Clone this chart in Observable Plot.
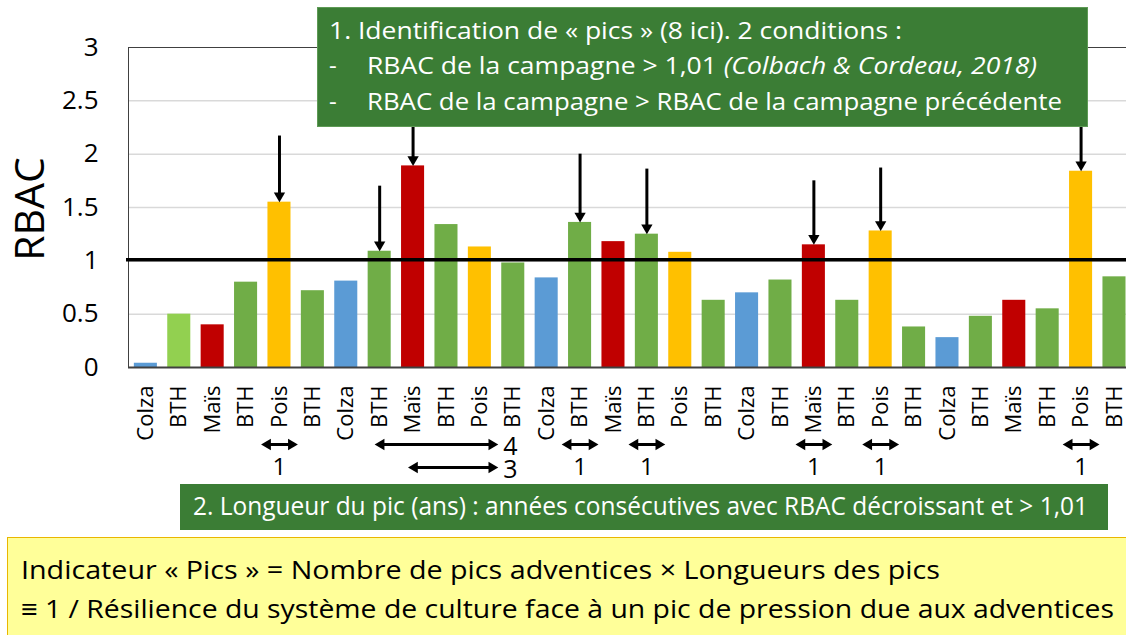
<!DOCTYPE html>
<html><head><meta charset="utf-8">
<script src="https://cdn.jsdelivr.net/npm/d3@7"></script>
<script src="https://cdn.jsdelivr.net/npm/@observablehq/plot@0.6"></script>
<style>
body{margin:0;background:#fff;font-family:"Open Sans",sans-serif;}
#wrap{position:relative;width:1126px;height:635px;overflow:hidden;background:#fff;}
#chart{position:absolute;left:0;top:0;}
.box{position:absolute;box-sizing:border-box;}
.line{position:absolute;white-space:nowrap;transform-origin:0 0;line-height:1;}
#ylabel{position:absolute;left:28px;top:209px;font-size:41px;line-height:1;white-space:nowrap;transform:translate(-50%,-50%) rotate(-90deg);color:#000;}
#box1{left:317px;top:7px;width:771px;height:120px;background:#3B7D35;border:1px solid #5E9A55;color:#fff;}
#box2{left:180px;top:484px;width:928px;height:46px;background:#3B7D35;color:#fff;}
#box3{left:7px;top:537px;width:1125px;height:110px;background:#FFFF99;border-top:1.5px solid #E9B600;border-left:1.5px solid #E9B600;color:#000;}
</style></head><body>
<div id="wrap">
  <div id="chart"></div>
  <div id="ylabel"></div>
  <div class="box" id="box1"></div>
  <div class="box" id="box2"></div>
  <div class="box" id="box3"></div>
</div>
<script>
// ---- data ----
const crops = ["Colza","BTH","Maïs","BTH","Pois","BTH","Colza","BTH","Maïs","BTH","Pois","BTH","Colza","BTH","Maïs","BTH","Pois","BTH","Colza","BTH","Maïs","BTH","Pois","BTH","Colza","BTH","Maïs","BTH","Pois","BTH"];
const rbac = [0.04,0.50,0.40,0.80,1.55,0.72,0.81,1.09,1.89,1.34,1.13,0.98,0.84,1.36,1.18,1.25,1.08,0.63,0.70,0.82,1.15,0.63,1.28,0.38,0.28,0.48,0.63,0.55,1.84,0.85];
const lightGreenBars = [1];
const yTicks = [0,0.5,1,1.5,2,2.5,3];
const yTickLabels = ["0","0.5","1","1.5","2","2.5","3"];
const threshold = 1.01;
const peakIndex = [4,7,8,13,15,20,22,28];
const arrowFrom = [2.17,1.70,2.25,2.00,1.86,1.75,1.87,2.25];
const spanStart = [4,7,8,13,15,20,22,28];
const spanLength = [1,4,3,1,1,1,1,1];
const yLabel = "RBAC";
const cropColor = {"Colza":"#5B9BD5","BTH":"#70AD47","Maïs":"#C00000","Pois":"#FFC000"};
const lightGreen = "#92D050";

const box1Lines = [
  {dash:"", html:"1. Identification de « pics » (8 ici). 2 conditions :"},
  {dash:"-", html:"RBAC de la campagne &gt; 1,01 <i>(Colbach &amp; Cordeau, 2018)</i>"},
  {dash:"-", html:"RBAC de la campagne &gt; RBAC de la campagne précédente"}
];
const box2Text = "2. Longueur du pic (ans) : années consécutives avec RBAC décroissant et &gt; 1,01";
const box3Lines = [
  "Indicateur « Pics » = Nombre de pics adventices × Longueurs des pics",
  "≡ 1 / Résilience du système de culture face à un pic de pression due aux adventices"
];

// ---- tables ----
const bars = crops.map((c, i) => ({i, crop: c, v: rbac[i], fill: lightGreenBars.includes(i) ? lightGreen : cropColor[c]}));
const peaks = peakIndex.map((p, k) => ({i: p, from: arrowFrom[k], v: rbac[p]}));
let multiRow = 0;
const spans = spanStart.map((s, k) => {
  const len = spanLength[k];
  const single = len === 1;
  return {
    start: s, len, single,
    x1: single ? s - 0.55 : s - 0.15,
    x2: s + len - 0.45,
    row: single ? 0 : multiRow++
  };
});
const xDomain = [-0.52, 29.36];
const rowDy = [77, 100];
const bw = 0.345;

const marks = [
  Plot.ruleY(yTicks.filter(t => t > 0 && t < 3), {stroke: "#d9d9d9", strokeWidth: 1.5}),
  Plot.rectY(bars, {x1: d => d.i - bw, x2: d => d.i + bw, y1: 0, y2: "v", fill: "fill"}),
  Plot.ruleY([3], {stroke: "#404040", strokeWidth: 1}),
  Plot.ruleY([0], {stroke: "#404040", strokeWidth: 2}),
  Plot.ruleX([xDomain[0]], {y1: 0, y2: 3, stroke: "#404040", strokeWidth: 1}),
  Plot.ruleY([threshold], {stroke: "#000", strokeWidth: 3.5, insetLeft: -2}),
  // y tick labels
  Plot.text(yTicks, {y: d => d, text: (d, k) => yTickLabels[k], frameAnchor: "left", textAnchor: "end", dx: -30, fontSize: 26}),
  // x tick labels
  Plot.text(bars, {x: "i", y: 0, text: "crop", rotate: -90, textAnchor: "end", dy: 18, fontSize: 22}),
  // peak arrows
  Plot.ruleX(peaks, {x: "i", y1: "from", y2: "v", stroke: "#000", strokeWidth: 3, insetBottom: 8}),
  Plot.dot(peaks, {x: "i", y: "v", symbol: "triangle", r: 4.2, rotate: 180, fill: "#000", stroke: "none", dy: -6.5})
];
for (const row of [0, 1]) {
  const sel = spans.filter(s => s.row === row);
  marks.push(
    Plot.ruleY(sel, {y: 0, x1: "x1", x2: "x2", dy: rowDy[row], stroke: "#000", strokeWidth: 3, insetLeft: 7, insetRight: 7}),
    Plot.dot(sel, {x: "x1", y: 0, symbol: "triangle", r: 4.2, rotate: -90, fill: "#000", stroke: "none", dx: 6.5, dy: rowDy[row]}),
    Plot.dot(sel, {x: "x2", y: 0, symbol: "triangle", r: 4.2, rotate: 90, fill: "#000", stroke: "none", dx: -6.5, dy: rowDy[row]}),
    Plot.text(sel.filter(s => !s.single), {x: "x2", y: 0, text: d => String(d.len), textAnchor: "start", dx: 5, dy: rowDy[row] + 2, fontSize: 25})
  );
}
marks.push(Plot.text(spans.filter(s => s.single), {x: "start", y: 0, text: d => String(d.len), dy: rowDy[1], fontSize: 24}));

const chart = Plot.plot({
  width: 1126,
  height: 480,
  marginTop: 47,
  marginBottom: 113,
  marginLeft: 128,
  marginRight: 0,
  x: {type: "linear", domain: xDomain, axis: null},
  y: {domain: [0, 3], axis: null},
  style: {fontFamily: "Open Sans", color: "#000", background: "transparent", overflow: "visible"},
  marks
});
document.getElementById("chart").appendChild(chart);

document.getElementById("ylabel").textContent = yLabel;

// ---- text boxes ----
function addLine(parent, html, left, baseline, size, width, extraStyle) {
  const el = document.createElement("div");
  el.className = "line";
  el.innerHTML = html;
  el.style.fontSize = size + "px";
  el.style.left = left + "px";
  el.style.top = (baseline - 0.888 * size) + "px";
  if (extraStyle) Object.assign(el.style, extraStyle);
  parent.appendChild(el);
  if (width) {
    const w = el.getBoundingClientRect().width;
    el.style.transform = `scaleX(${width / w})`;
  }
  return el;
}
const b1 = document.getElementById("box1");
const b1x = 318, b1y = 8;
addLine(b1, box1Lines[0].html, 329 - b1x, 39 - b1y, 24, 573);
addLine(b1, box1Lines[1].dash, 329 - b1x, 74 - b1y, 24);
addLine(b1, box1Lines[1].html, 367 - b1x, 74 - b1y, 24, 670);
addLine(b1, box1Lines[2].dash, 329 - b1x, 110 - b1y, 24);
addLine(b1, box1Lines[2].html, 367 - b1x, 110 - b1y, 24, 695);

const b2 = document.getElementById("box2");
addLine(b2, box2Text, 193 - 180, 515 - 484, 25, 895);

const b3 = document.getElementById("box3");
addLine(b3, box3Lines[0], 21 - 8.5, 580 - 538.5, 26, 919);
addLine(b3, box3Lines[1], 21 - 8.5, 619 - 538.5, 26, 1093);
</script>
</body></html>
